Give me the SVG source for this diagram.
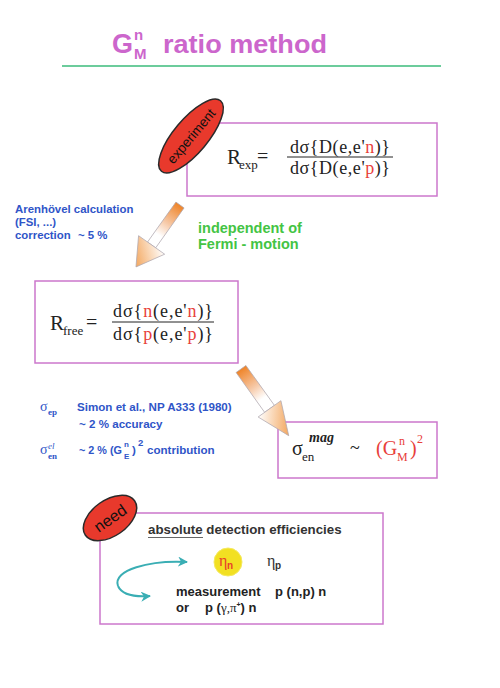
<svg xmlns="http://www.w3.org/2000/svg" width="500" height="688" viewBox="0 0 500 688">
<defs>
<style>
.box{fill:#fff;stroke:#cc77cc;stroke-width:1.5}
.sans{font-family:"Liberation Sans",Arial,sans-serif;font-weight:bold}
.serif{font-family:"Liberation Serif","Times New Roman",serif}
.blue{fill:#2f55c8}
.red{fill:#e8403a}
.green{fill:#44c444}
.oval{fill:#e8392c;stroke:#2a2a2a;stroke-width:1.5}
.arrow{stroke:#b0a8b0;stroke-width:0.7}
</style>
<linearGradient id="shaftG" x1="0" y1="0" x2="1" y2="0">
<stop offset="0" stop-color="#ef8428"/>
<stop offset="0.45" stop-color="#f6c8a6"/>
<stop offset="0.75" stop-color="#ffffff"/>
</linearGradient>
<linearGradient id="head1" x1="0" y1="0" x2="1" y2="1">
<stop offset="0" stop-color="#ffffff"/>
<stop offset="1" stop-color="#ef8a2a"/>
</linearGradient>
<linearGradient id="head2" x1="0" y1="1" x2="1" y2="0">
<stop offset="0" stop-color="#ffffff"/>
<stop offset="1" stop-color="#ef8a2a"/>
</linearGradient>
<marker id="teal" viewBox="0 0 10 10" refX="9" refY="5" markerWidth="5" markerHeight="5" orient="auto">
<path d="M0,0 L10,5 L0,10 L3,5 z" fill="#3aaeb4"/>
</marker>
</defs>

<g id="title">
<text class="sans" x="112" y="53" font-size="27" fill="#cc66cc">G</text>
<text class="sans" x="134" y="40" font-size="15" fill="#cc66cc">n</text>
<text class="sans" x="134" y="59" font-size="15" fill="#cc66cc">M</text>
<text class="sans" x="163" y="53" font-size="26" fill="#cc66cc" textLength="164" lengthAdjust="spacingAndGlyphs">ratio method</text>
<line x1="62" y1="66" x2="441" y2="66" stroke="#6ccc9c" stroke-width="2"/>
</g>

<g id="experiment-box">
<rect class="box" x="187" y="123" width="250" height="73"/>
<text class="serif" x="227" y="164" font-size="21" fill="#222">R</text>
<text class="serif" x="239" y="169" font-size="13" fill="#222">exp</text>
<text class="serif" x="257" y="163" font-size="20" fill="#222">=</text>
<text class="serif" x="340" y="153" font-size="18" fill="#222" text-anchor="middle" textLength="100" lengthAdjust="spacing">dσ{D(e,e'<tspan class="red">n</tspan>)}</text>
<line x1="287" y1="157" x2="393" y2="157" stroke="#222" stroke-width="1"/>
<text class="serif" x="340" y="174" font-size="18" fill="#222" text-anchor="middle" textLength="100" lengthAdjust="spacing">dσ{D(e,e'<tspan class="red">p</tspan>)}</text>
</g>

<g id="experiment-tag">
<ellipse class="oval" cx="191" cy="136" rx="46" ry="17" transform="rotate(-50 191 136)"/>
<text x="191" y="141" font-size="13.5" text-anchor="middle" fill="#111" font-family="Liberation Sans, Arial, sans-serif" transform="rotate(-50 191 136)">experiment</text>
</g>

<g id="arenhoevel">
<text class="sans blue" x="15" y="213" font-size="11.4">Arenhövel calculation</text>
<text class="sans blue" x="15" y="226" font-size="11.4">(FSI, ...)</text>
<text class="sans blue" x="15" y="239" font-size="11.4">correction</text>
<text class="sans blue" x="78" y="239" font-size="11.4">~ 5 %</text>
</g>

<g id="independent">
<text class="sans green" x="198" y="233" font-size="14.5">independent of</text>
<text class="sans green" x="198" y="249" font-size="14.5">Fermi - motion</text>
</g>

<g id="free-box">
<rect class="box" x="35" y="281" width="203" height="82"/>
<text class="serif" x="50" y="330" font-size="21" fill="#222">R</text>
<text class="serif" x="63" y="335" font-size="13" fill="#222">free</text>
<text class="serif" x="86" y="329" font-size="20" fill="#222">=</text>
<text class="serif" x="163" y="317" font-size="18" fill="#222" text-anchor="middle" textLength="100" lengthAdjust="spacing">dσ{<tspan class="red">n</tspan>(e,e'<tspan class="red">n</tspan>)}</text>
<line x1="112" y1="322" x2="214" y2="322" stroke="#222" stroke-width="1"/>
<text class="serif" x="163" y="340" font-size="18" fill="#222" text-anchor="middle" textLength="100" lengthAdjust="spacing">dσ{<tspan class="red">p</tspan>(e,e'<tspan class="red">p</tspan>)}</text>
</g>

<g id="sigma-notes">
<text class="serif blue" x="40" y="411" font-size="14">σ</text>
<text class="serif blue" x="48" y="415" font-size="9" font-weight="bold">ep</text>
<text class="sans blue" x="77" y="411" font-size="11.6">Simon et al., NP A333 (1980)</text>
<text class="sans blue" x="79" y="428" font-size="11.6">~ 2 % accuracy</text>
<text class="serif blue" x="40" y="454" font-size="14">σ</text>
<text class="serif blue" x="48" y="449" font-size="9" font-style="italic">el</text>
<text class="serif blue" x="48" y="459" font-size="9" font-weight="bold">en</text>
<text class="sans blue" x="79" y="454" font-size="11.6" textLength="43" lengthAdjust="spacingAndGlyphs">~ 2 % (G</text>
<text class="sans blue" x="124" y="447" font-size="8">n</text>
<text class="sans blue" x="124" y="459" font-size="8">E</text>
<text class="sans blue" x="132" y="454" font-size="11.6">)</text>
<text class="sans blue" x="138" y="446" font-size="9.5">2</text>
<text class="sans blue" x="147" y="454" font-size="11.6">contribution</text>
</g>

<g id="mag-box">
<rect class="box" x="278" y="422" width="159" height="56"/>
<text class="serif" x="292" y="455" font-size="20" fill="#222">σ</text>
<text class="serif" x="302" y="461" font-size="13" fill="#222">en</text>
<text class="serif" x="309" y="442" font-size="14" font-style="italic" font-weight="bold" fill="#222">mag</text>
<text class="serif" x="350" y="454" font-size="18" fill="#222">~</text>
<text class="serif red" x="376" y="455" font-size="20">(G</text>
<text class="serif red" x="399" y="445" font-size="12">n</text>
<text class="serif red" x="397" y="461" font-size="12">M</text>
<text class="serif red" x="410" y="455" font-size="20">)</text>
<text class="serif red" x="417" y="443" font-size="12">2</text>
</g>

<g id="need-box">
<rect class="box" x="100" y="513" width="283" height="111"/>
<text class="sans" x="148" y="534" font-size="13.3" fill="#333">absolute detection efficiencies</text>
<line x1="148" y1="537.5" x2="203" y2="537.5" stroke="#666" stroke-width="1.2"/>
<circle cx="228" cy="562" r="14" fill="#f2e022" stroke="#f5ea60" stroke-width="1"/>
<text class="serif" x="219" y="566" font-size="16" fill="#e8402a">η</text>
<text class="sans" x="227" y="569" font-size="10" fill="#e8402a">n</text>
<text class="serif" x="267" y="566" font-size="16" fill="#333">η</text>
<text class="sans" x="275" y="569" font-size="10" fill="#333">p</text>
<text class="sans" x="176" y="596" font-size="13" fill="#222">measurement</text>
<text class="sans" x="275" y="596" font-size="13" fill="#222">p (n,p) n</text>
<text class="sans" x="176" y="612" font-size="13" fill="#222">or</text>
<text class="sans" x="205" y="612" font-size="13" fill="#222">p (<tspan class="serif" font-weight="normal">γ,π</tspan><tspan font-size="7" dy="-5">+</tspan><tspan dy="5">) n</tspan></text>
</g>

<g id="connectors">
<g id="arrow1" transform="translate(180,205) rotate(125.4)">
<polygon class="arrow" points="0,-5 49,-5 49,5 0,5" fill="url(#shaftG)"/>
<polygon class="arrow" points="49,-16 76,0 49,16" fill="url(#head1)"/>
</g>
<g id="arrow2" transform="translate(241,369) rotate(54.4)">
<polygon class="arrow" points="0,-6 49,-6 49,6 0,6" fill="url(#shaftG)"/>
<polygon class="arrow" points="49,-14 82,0 49,14" fill="url(#head2)"/>
</g>
<path d="M118,586 C112,570 150,560 187,562" fill="none" stroke="#3aaeb4" stroke-width="2" marker-end="url(#teal)"/>
<path d="M118,586 C122,595 136,597 150,596" fill="none" stroke="#3aaeb4" stroke-width="2" marker-end="url(#teal)"/>
</g>

<g id="need-tag">
<ellipse class="oval" cx="110" cy="518" rx="30" ry="18" transform="rotate(-35 110 518)"/>
<text x="110" y="524" font-size="16" text-anchor="middle" fill="#111" font-family="Liberation Sans, Arial, sans-serif" transform="rotate(-35 110 518)">need</text>
</g>
</svg>
